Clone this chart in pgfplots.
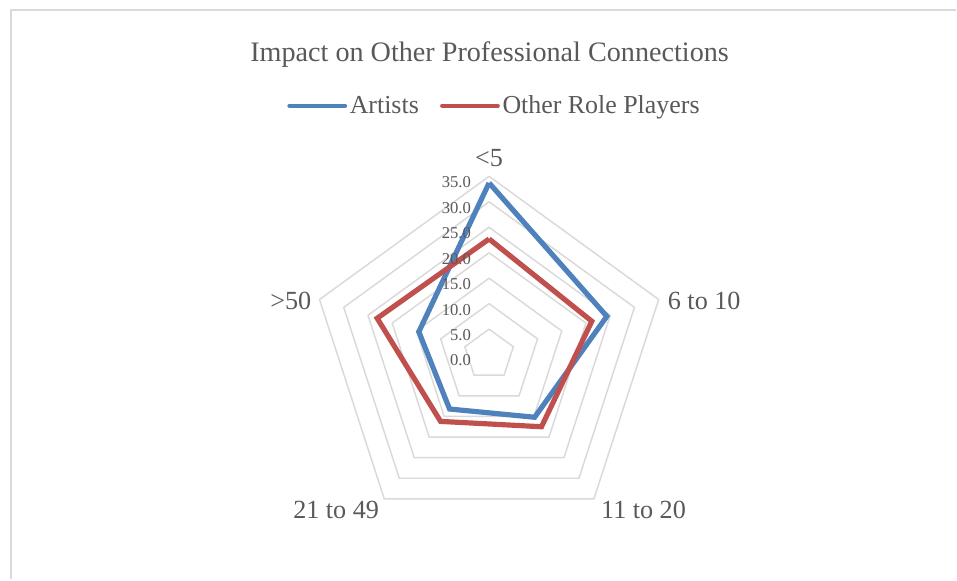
\documentclass[border=0pt]{standalone}
\usepackage{pgfplots}
\pgfplotsset{compat=1.18}
\usepgfplotslibrary{polar}
\usepackage{fontspec}
\setmainfont{Liberation Serif}
\definecolor{txt}{HTML}{595959}
\definecolor{gridc}{HTML}{D9D9D9}
\definecolor{blu}{HTML}{4F81BD}
\definecolor{rd}{HTML}{C0504D}
\tikzset{catlabel/.style={text=txt, inner sep=0pt, font=\fontsize{19.7}{23}\selectfont}}
\begin{document}
\begin{tikzpicture}
\path (0pt,0pt) rectangle (717.75pt,434.25pt);
\draw[gridc, line width=1.1pt] (8.25pt,-2pt) -- (8.25pt,426.75pt) -- (720pt,426.75pt);
\node[anchor=base, text=txt, font=\fontsize{21.2}{25}\selectfont] at (368.6pt,388pt) {Impact on Other Professional Connections};
\begin{polaraxis}[
  at={(368.25pt,167.25pt)}, anchor=origin,
  scale only axis, width=268.5pt, height=268.5pt,
  xmin=0, xmax=360, ymin=0, ymax=35,
  xtick=\empty,
  ytick=\empty,
  grid=none,
  axis line style={draw=none},
  major tick length=0pt,
  legend style={at={(axis description cs:0.516,1.198)}, anchor=center, draw=none, fill=none, legend columns=2,
    font=\fontsize{19.5}{23}\selectfont, text=txt,
    /tikz/every even column/.append style={column sep=14pt}},
  legend image code/.code={\draw[#1, line width=3pt, line cap=round] (0pt,0pt) -- (42pt,0pt);},
  clip=false,
]
\pgfplotsinvokeforeach{5,10,...,35}{
  \addplot[gridc, line width=1.1pt, forget plot] coordinates {(90,#1) (18,#1) (306,#1) (234,#1) (162,#1) (90,#1)};
}
\addplot[blu, line width=3.9pt, line join=miter] coordinates {(90,33.7) (18,24.3) (306,15.2) (234,13.2) (162,14.5) (90,33.7)};
\addplot[rd, line width=3.9pt, line join=miter] coordinates {(90,22.7) (18,21.2) (306,17.5) (234,16.2) (162,23.1) (90,22.7)};
\legend{Artists, Other Role Players}
\pgfplotsinvokeforeach{0,5,...,35}{
  \node[anchor=east, inner sep=0pt, text=txt, font=\fontsize{12.5}{14}\selectfont, xshift=-13.5pt, yshift=-4.5pt] at (axis cs:90,#1) {\pgfmathprintnumber[fixed,fixed zerofill,precision=1,assume math mode=true]{#1}};
}
\node[catlabel, anchor=base, yshift=7.5pt] at (axis cs:90,35) {<5};
\node[catlabel, anchor=west, xshift=6.75pt, yshift=-1pt] at (axis cs:18,35) {6 to 10};
\node[catlabel, anchor=north west, xshift=5.25pt, yshift=-1.5pt] at (axis cs:306,35) {11 to 20};
\node[catlabel, anchor=north east, xshift=-3.75pt, yshift=-1.5pt] at (axis cs:234,35) {21 to 49};
\node[catlabel, anchor=east, xshift=-6pt, yshift=-1pt] at (axis cs:162,35) {>50};
\end{polaraxis}
\end{tikzpicture}
\end{document}
